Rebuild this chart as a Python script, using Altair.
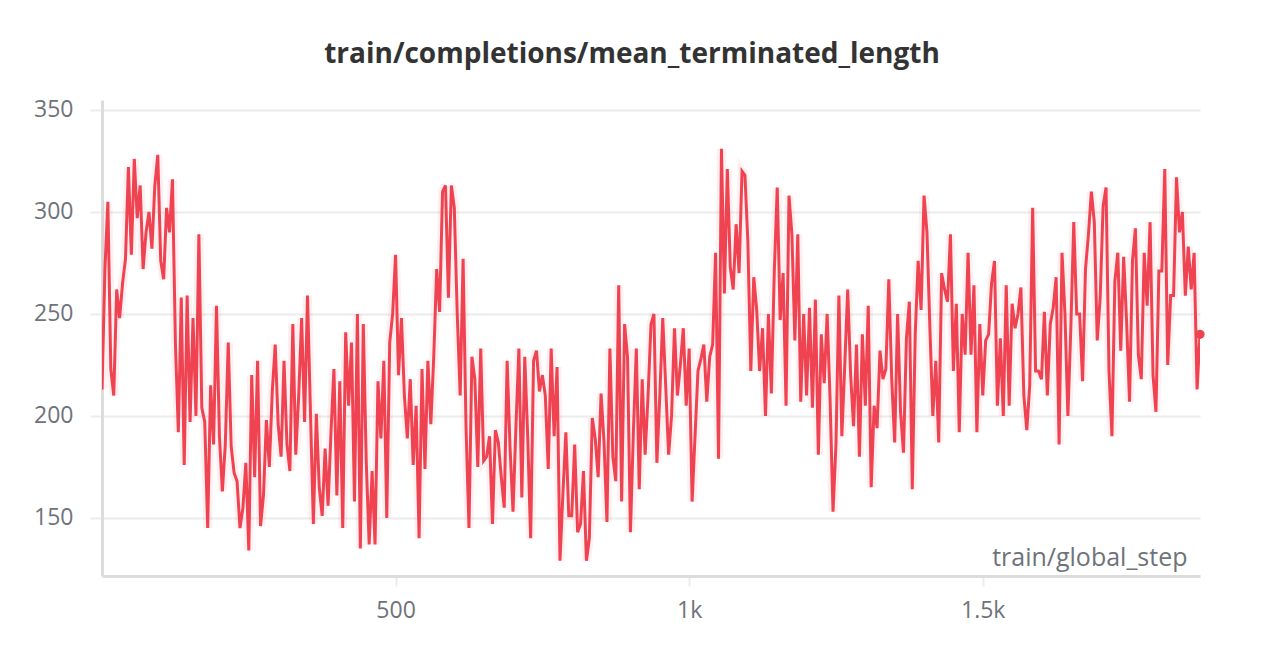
import altair as alt
import pandas as pd

STEP_INTERVAL = 5

seg1 = [213, 272, 305, 223, 210, 262, 248, 265, 277, 322, 279, 326, 297, 313, 272, 290,
        300, 282, 313, 328, 276, 267, 302, 290, 316, 236, 192, 258, 176, 259, 197, 248,
        200, 289, 204, 197, 145, 215, 186, 254, 190, 163, 186, 236, 185, 172, 168, 145,
        155, 177, 134, 220, 170, 227, 146, 161, 198, 175, 212, 235, 196, 180, 227]
seg2 = [186, 173, 245, 181, 210, 248, 197, 259, 202, 147, 201, 165, 151, 184, 156, 192,
        223, 161, 217, 145, 241, 205, 236, 158, 250, 135, 245, 178, 137, 173, 137, 217,
        189, 227, 150, 236, 250, 279, 220, 248, 210, 189, 218, 176, 205, 140, 223, 174,
        227, 196, 229, 272, 251, 310, 313, 258, 313, 302, 250, 210, 277, 194, 145]
seg3 = [229, 218, 175, 233, 178, 180, 190, 147, 193, 187, 170, 155, 227, 184, 153, 195,
        233, 160, 229, 190, 140, 227, 232, 212, 220, 210, 174, 233, 190, 224, 129, 162,
        192, 151, 151, 186, 143, 147, 173, 129, 140, 199, 189, 170, 211, 187, 148, 233,
        180, 168, 264, 158, 245, 229, 143, 192, 233, 164, 218, 181, 210, 245, 250]
seg4 = [177, 210, 248, 215, 181, 200, 243, 210, 225, 243, 205, 233, 158, 190, 222, 228,
        235, 207, 229, 235, 280, 179, 331, 260, 321, 273, 262, 294, 270, 320, 318, 285,
        222, 268, 252, 222, 243, 200, 250, 211, 271, 312, 247, 270, 205, 308, 289, 237,
        289, 207, 250, 210, 253, 204, 257, 181, 240, 216, 250, 208, 153, 186, 259]
seg5 = [190, 225, 262, 220, 195, 235, 180, 240, 205, 254, 165, 205, 194, 232, 218, 223,
        267, 218, 187, 250, 202, 182, 238, 256, 164, 240, 276, 252, 308, 290, 243, 200,
        227, 187, 270, 262, 256, 289, 222, 255, 192, 250, 230, 280, 230, 264, 192, 245,
        210, 237, 240, 265, 276, 205, 238, 200, 264, 205, 255, 243, 250, 263, 210]
seg6 = [193, 215, 302, 222, 222, 218, 251, 210, 245, 253, 268, 186, 280, 250, 200, 243,
        295, 250, 250, 217, 272, 289, 310, 295, 237, 258, 303, 312, 222, 190, 266, 280,
        232, 278, 246, 207, 276, 292, 230, 218, 280, 254, 295, 220, 202, 271, 271, 321,
        225, 259, 259, 317, 290, 300, 259, 283, 262, 280, 213, 240]

values = seg1 + seg2 + seg3 + seg4 + seg5 + seg6
steps = [i * STEP_INTERVAL for i in range(len(values))]

df = pd.DataFrame({"step": steps, "value": values})
last = df.tail(1)

FONT = "Open Sans"
LINE = "#ef4352"
GRID = "#ececec"
LABEL = "#6e737a"

x_enc = alt.X(
    "step:Q",
    scale=alt.Scale(domain=[0, 1870], nice=False, zero=False),
    axis=alt.Axis(
        values=[500, 1000, 1500],
        labelExpr="datum.value >= 1000 ? format(datum.value / 1000, '~g') + 'k' : datum.value",
        title="train/global_step",
        titleAnchor="end",
        titleAlign="right",
        titleBaseline="alphabetic",
        titleX=1085,
        titleY=-11,
        titleFont=FONT,
        titleFontSize=25,
        titleFontWeight="normal",
        titleColor=LABEL,
        labelFont=FONT,
        labelFontSize=23,
        labelColor=LABEL,
        labelPadding=13,
        tickSize=10,
        tickColor=GRID,
        tickWidth=2,
        domainColor="#dcdcdc",
        domainWidth=3,
        grid=False,
    ),
)
y_enc = alt.Y(
    "value:Q",
    scale=alt.Scale(domain=[121.5, 354.9], nice=False, zero=False),
    axis=alt.Axis(
        values=[150, 200, 250, 300, 350],
        title=None,
        labelFont=FONT,
        labelFontSize=23,
        labelColor=LABEL,
        labelPadding=17,
        tickSize=12,
        tickColor=GRID,
        tickWidth=2,
        domainColor="#dcdcdc",
        domainWidth=3,
        grid=True,
        gridColor=GRID,
        gridWidth=2,
    ),
)

base = alt.Chart(df)
halo = base.mark_line(color=LINE, strokeWidth=9, opacity=0.08, clip=True).encode(x=x_enc, y=y_enc)
line = base.mark_line(color=LINE, strokeWidth=3, clip=True).encode(x=x_enc, y=y_enc)
dot = alt.Chart(last).mark_circle(color=LINE, size=85, opacity=1).encode(x=x_enc, y=y_enc)

chart = (
    alt.layer(halo, line, dot)
    .properties(
        width=1098,
        height=476,
        background="white",
        autosize=alt.AutoSizeParams(type="none"),
        padding={"left": 94, "top": 92, "right": 50, "bottom": 80},
        title=alt.TitleParams(
            "train/completions/mean_terminated_length",
            font=FONT,
            fontSize=28,
            fontWeight="bold",
            color="#333333",
            anchor="middle",
            dx=-19,
            offset=30,
        ),
    )
    .configure_view(stroke=None)
)

chart.save("out.html", embed_options={"renderer": "svg", "actions": False})
